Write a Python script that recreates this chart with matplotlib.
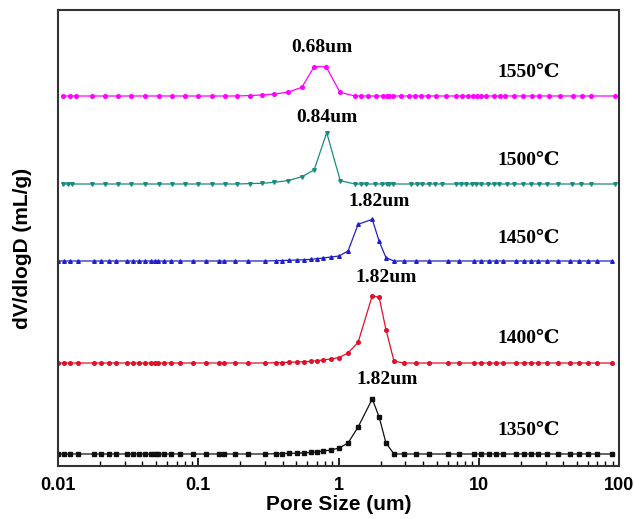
import numpy as np
import matplotlib
matplotlib.use("Agg")
import matplotlib.pyplot as plt
from matplotlib.ticker import LogLocator, FuncFormatter, NullFormatter

# pore size grids (um)
size_1550 = [0.0109, 0.0121, 0.0135, 0.0174, 0.0218, 0.0269, 0.0334, 0.0417, 0.0521, 0.0648,
             0.0810, 0.100, 0.126, 0.155, 0.190, 0.235, 0.285, 0.348, 0.433, 0.548,
             0.670, 0.815, 1.025, 1.31, 1.45, 1.62, 1.85, 2.09, 2.20, 2.30,
             2.45, 2.77, 3.18, 3.53, 3.87, 4.33, 4.95, 5.88, 6.93, 7.60,
             8.33, 9.12, 9.70, 10.3, 11.3, 12.9, 14.2, 15.5, 17.7, 20.6,
             24.0, 27.1, 31.5, 37.8, 46.7, 54.3, 63.2, 93.5]
size_1500 = [0.0109, 0.0117, 0.0126, 0.0174, 0.0218, 0.0269, 0.0334, 0.0417, 0.0521, 0.0648,
             0.0810, 0.100, 0.126, 0.155, 0.190, 0.235, 0.285, 0.348, 0.433, 0.548,
             0.670, 0.824, 1.03, 1.31, 1.45, 1.58, 1.83, 2.05, 2.20, 2.30,
             2.45, 3.30, 3.60, 3.95, 4.45, 4.85, 5.45, 6.90, 7.50, 8.10,
             8.90, 9.50, 10.4, 11.7, 12.8, 14.0, 15.8, 17.8, 20.6, 23.5,
             27.0, 30.5, 37.0, 46.0, 54.0, 63.0, 93.5]
size_low = [0.0100, 0.0110, 0.0122, 0.0138, 0.0181, 0.0201, 0.0230, 0.0259, 0.0310, 0.0340,
            0.0377, 0.0420, 0.0460, 0.0489, 0.0519, 0.0568, 0.0640, 0.0744, 0.0919, 0.1135,
            0.140, 0.153, 0.184, 0.227, 0.300, 0.360, 0.395, 0.445, 0.503, 0.565,
            0.640, 0.700, 0.780, 0.880, 1.01, 1.17, 1.38, 1.74, 1.95, 2.18,
            2.49, 2.95, 3.55, 4.40, 6.00, 7.20, 9.20, 10.4, 11.8, 13.3,
            15.0, 18.5, 20.9, 23.5, 26.6, 30.9, 37.0, 44.4, 51.6, 60.0,
            69.7, 88.7]

# dV/dlogD (arbitrary units)
dv_1550 = [0] * 15 + [0.5, 1.0, 2.0, 3.7, 8.7, 29.3, 29.3, 3.7] + [0] * 35
dv_1500 = [0] * 15 + [0.4, 0.7, 1.7, 3.3, 7.3, 14.0, 51.3, 3.3] + [0] * 34
dv_1450 = [0] * 25 + [0.3, 0.5, 0.7, 1.0, 1.2, 1.7, 2.3, 3.0, 4.0, 5.0,
                      10.0, 36.7, 41.7, 19.7, 3.3] + [0] * 22
dv_1400 = [0] * 25 + [0.3, 0.5, 0.7, 1.0, 1.3, 1.7, 2.3, 3.0, 4.0, 5.5,
                      10.0, 20.7, 67.3, 65.7, 33.3, 1.7] + [0] * 21
dv_1350 = [0] * 25 + [0.3, 0.4, 0.6, 0.8, 1.1, 1.6, 2.2, 3.0, 4.0, 6.0,
                      11.0, 27.0, 55.0, 37.0, 11.0] + [0] * 22

temps = ["1550℃", "1500℃", "1450℃", "1400℃", "1350℃"]
peak_labels = ["0.68um", "0.84um", "1.82um", "1.82um", "1.82um"]

series = [
    (size_1550, dv_1550, "#ff00ff", "o", 370),
    (size_1500, dv_1500, "#1b8a80", "v", 282),
    (size_low, dv_1450, "#2020c8", "^", 205),
    (size_low, dv_1400, "#e0102a", "o", 103),
    (size_low, dv_1350, "#101010", "s", 12),
]
label_xy = [(0.763, 419), (0.828, 349), (1.94, 264), (2.17, 188), (2.21, 86)]
temp_y = [394, 306, 228, 128, 36]

serif = ["Liberation Serif", "DejaVu Serif"]

fig = plt.figure(figsize=(6.34, 5.19), dpi=100)
ax = fig.add_axes([58 / 634, 1 - 466 / 519, (619 - 58) / 634, (466 - 10) / 519])

for (x, y, c, m, off), lab, (lx, ly), t, ty in zip(series, peak_labels, label_xy, temps, temp_y):
    ax.plot(x, np.array(y) + off, color=c, lw=0.9, marker=m, ms=2.6, mec=c, mfc=c)
    ax.text(lx, ly, lab, ha="center", va="center", fontsize=14,
            fontweight="bold", family=serif)
    ax.text(22.5, ty, t, ha="center", va="center", fontsize=14,
            fontweight="bold", family=serif)

ax.set_xscale("log")
ax.set_xlim(0.01, 100)
ax.set_ylim(0, 456)
ax.set_yticks([])
ax.xaxis.set_major_locator(LogLocator(base=10))
ax.xaxis.set_minor_locator(LogLocator(base=10, subs=np.arange(2, 10)))
ax.xaxis.set_minor_formatter(NullFormatter())
ax.xaxis.set_major_formatter(FuncFormatter(lambda v, p: f"{v:g}"))
ax.tick_params(axis="x", which="major", direction="in", length=6, width=1.2, pad=8)
ax.tick_params(axis="x", which="minor", direction="in", length=3.5, width=1)
for lbl in ax.get_xticklabels():
    lbl.set_fontweight("bold")
    lbl.set_fontsize(13)
    lbl.set_family("Liberation Sans")
for s in ax.spines.values():
    s.set_linewidth(1.5)
    s.set_color("#333333")

ax.set_xlabel("Pore Size (um)", fontsize=15, fontweight="bold", family="Liberation Sans", labelpad=1)
ax.set_ylabel("dV/dlogD (mL/g)", fontsize=15, fontweight="bold", family="Liberation Sans")
ax.yaxis.set_label_coords(-0.047, 0.478)

fig.savefig("out.png", dpi=100)
